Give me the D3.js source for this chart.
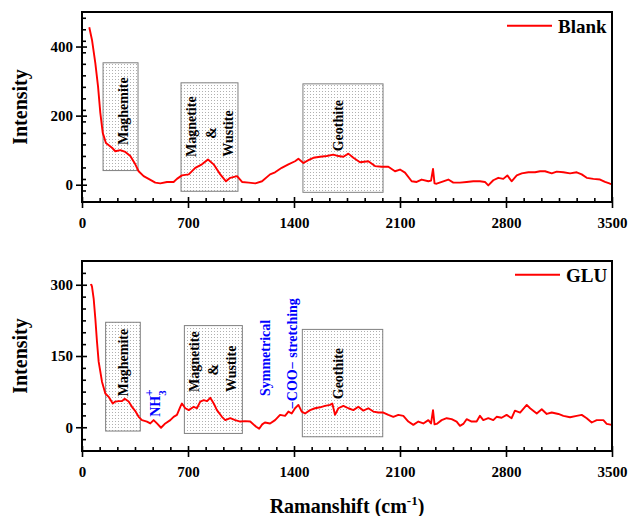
<!DOCTYPE html>
<html>
<head>
<meta charset="utf-8">
<script src="https://cdn.jsdelivr.net/npm/d3@7/dist/d3.min.js"></script>
<style>
  html, body { margin: 0; padding: 0; background: #fff; }
  svg { display: block; }
  svg text { font-family: "Liberation Serif", "Times New Roman", serif !important; font-weight: bold; }
</style>
</head>
<body>
<svg id="chart" width="628" height="516"></svg>
<script>
// ---------------- data ----------------
const xTickValues = [0, 700, 1400, 2100, 2800, 3500];
const blankYTicks = [0, 200, 400];
const gluYTicks = [0, 150, 300];

const blankX = [48,66,88,106,121,137,158,198,220,253,286,319,352,374,407,440,484,517,561,605,627,660,705,748,792,832,869,913,951,979,1024,1057,1101,1145,1189,1242,1275,1319,1363,1407,1429,1462,1495,1528,1572,1616,1660,1693,1726,1759,1792,1836,1891,1935,1979,2023,2067,2100,2133,2177,2210,2243,2287,2305,2318,2328,2342,2386,2419,2452,2496,2540,2584,2628,2661,2683,2716,2749,2782,2809,2837,2871,2904,2948,2992,3025,3058,3102,3135,3179,3223,3267,3300,3333,3377,3421,3454,3487,3500];
const blankY = [456,419,352,284,208,150,121,107,97,100,95,83,59,39,25,17,6,4,8,8,17,27,30,49,59,73,59,30,10,20,25,8,6,4,10,30,36,49,59,68,75,63,71,78,81,83,87,83,81,90,78,65,68,54,52,52,39,44,35,10,8,15,10,12,46,4,3,10,15,6,6,8,10,10,8,-2,13,20,17,27,10,27,33,36,36,39,39,33,38,36,33,36,30,20,17,15,8,3,2];

const gluX = [55,62,66,77,88,99,110,132,154,176,203,220,242,264,282,308,330,352,374,396,429,451,473,495,522,550,583,605,627,649,660,682,705,738,759,781,804,826,847,870,891,924,946,979,1012,1045,1078,1111,1150,1170,1190,1208,1242,1275,1308,1341,1363,1385,1407,1429,1451,1473,1506,1539,1572,1605,1638,1653,1671,1693,1726,1759,1792,1825,1858,1891,1924,1957,1990,2023,2056,2089,2122,2155,2188,2221,2254,2287,2305,2318,2328,2342,2375,2408,2441,2474,2496,2518,2540,2573,2606,2628,2650,2683,2716,2738,2771,2804,2837,2859,2893,2937,2959,3003,3036,3069,3102,3146,3179,3223,3267,3300,3333,3366,3399,3443,3465,3498];
const gluY = [299,300,296,271,229,180,138,96,71,64,50,54,55,55,60,54,43,34,22,15,12,8,15,8,-1,8,15,22,26,43,50,40,36,43,40,54,57,55,62,50,36,22,15,19,15,12,13,12,1,-3,6,10,8,15,26,24,33,29,40,47,33,29,36,40,42,45,47,50,26,40,45,40,36,43,35,40,33,31,31,26,22,26,24,12,5,12,8,15,8,36,6,7,15,19,17,12,3,7,17,12,12,24,15,19,15,22,20,26,19,35,31,47,40,29,38,28,31,28,24,21,24,26,19,10,15,15,7,5];

// annotation boxes: [x0, x1, y0, y1] in data units
const blankBoxes = [[139,370,41,353],[654,1030,-19,295],[1459,1988,-22,292]];
const gluBoxes = [[156,385,-8,221],[676,1059,-13,214],[1455,1986,-20,206]];
// labels: [text, x, y] (center, data units)
const blankLabels = [["Maghemite",272,213],["Magnetite",720,168],["&",852,150],["Wustite",966,148],["Geothite",1697,171]];
const gluLabels = [["Maghemite",271,136],["Magnetite",746,138],["&",868,121],["Wustite",984,123],["Geothite",1691,113]];
const gluBlueLabels = [["Symmetrical",1209,146],["\u2212COO\u2212 stretching",1388,155]];
const nh3Label = ["NH", 513, 22];

// ---------------- drawing ----------------
const FONT = "'Liberation Serif', 'Times New Roman', serif";
const svg = d3.select("#chart");
const left = 82, right = 612;
const x = d3.scaleLinear().domain([0, 3500]).range([left, right]);

const defs = svg.append("defs");
const pat = defs.append("pattern").attr("id", "dots").attr("width", 3).attr("height", 3)
  .attr("patternUnits", "userSpaceOnUse");
pat.append("rect").attr("width", 3).attr("height", 3).attr("fill", "#ffffff");
pat.append("rect").attr("x", 1).attr("y", 1).attr("width", 1).attr("height", 1).attr("fill", "#b0b0b0");

function panel(cfg) {
  const y = d3.scaleLinear().domain(cfg.domain).range([cfg.bottom, cfg.top]);
  const g = svg.append("g").attr("font-family", FONT);
  const clipId = "clip" + cfg.id;
  defs.append("clipPath").attr("id", clipId).append("rect")
    .attr("x", left).attr("y", cfg.top).attr("width", right - left).attr("height", cfg.bottom - cfg.top);

  // boxes
  g.selectAll("rect.box").data(cfg.boxes).enter().append("rect")
    .attr("class", "box")
    .attr("x", d => x(d[0])).attr("width", d => x(d[1]) - x(d[0]))
    .attr("y", d => y(d[3])).attr("height", d => y(d[2]) - y(d[3]))
    .attr("fill", "url(#dots)").attr("stroke", "#808080").attr("stroke-width", 1);

  // curve
  const pts = cfg.xs.map((v, i) => [v, cfg.ys[i]]);
  g.append("path").datum(pts)
    .attr("clip-path", `url(#${clipId})`)
    .attr("fill", "none").attr("stroke", "#ff0000").attr("stroke-width", 1.9)
    .attr("stroke-linejoin", "round")
    .attr("d", d3.line().x(d => x(d[0])).y(d => y(d[1])));

  // labels
  g.selectAll("text.lab").data(cfg.labels).enter().append("text")
    .attr("class", "lab")
    .attr("transform", d => `translate(${x(d[1])},${y(d[2])}) rotate(-90)`)
    .attr("text-anchor", "middle").attr("dominant-baseline", "central")
    .attr("font-size", 14).attr("fill", "#000").text(d => d[0]);

  // axes
  const minorStepX = 700 / 6;
  const minorX = d3.range(0, 3500.1, minorStepX).filter(v => Math.abs(v / 700 - Math.round(v / 700)) > 1e-6);
  const yMinorStep = cfg.yTicks[1] / 6;
  const minorY = d3.range(cfg.domain[0], cfg.domain[1] + 0.1, yMinorStep)
    .filter(v => Math.abs(v / cfg.yTicks[1] - Math.round(v / cfg.yTicks[1])) > 1e-6 && v > cfg.domain[0] && v < cfg.domain[1]);

  const xAxis = g.append("g").attr("transform", `translate(0,${cfg.bottom})`)
    .call(d3.axisBottom(x).tickValues(xTickValues).tickSize(6).tickPadding(9).tickFormat(d3.format("d")));
  const xMinor = g.append("g").attr("transform", `translate(0,${cfg.bottom})`)
    .call(d3.axisBottom(x).tickValues(minorX).tickSize(-4).tickFormat(""));
  const xMajIn = g.append("g").attr("transform", `translate(0,${cfg.bottom})`)
    .call(d3.axisBottom(x).tickValues(xTickValues).tickSize(-5).tickFormat(""));
  const yAxis = g.append("g").attr("transform", `translate(${left},0)`)
    .call(d3.axisLeft(y).tickValues(cfg.yTicks).tickSize(6).tickPadding(3));
  const yMinor = g.append("g").attr("transform", `translate(${left},0)`)
    .call(d3.axisLeft(y).tickValues(minorY).tickSize(-4).tickFormat(""));
  const yMajIn = g.append("g").attr("transform", `translate(${left},0)`)
    .call(d3.axisLeft(y).tickValues(cfg.yTicks).tickSize(-5).tickFormat(""));
  [xAxis, xMinor, xMajIn, yAxis, yMinor, yMajIn].forEach(a => {
    a.attr("font-family", FONT).attr("font-size", 15);
    a.select(".domain").remove();
    a.selectAll("line").attr("stroke", "#000").attr("stroke-width", 1.6);
    a.selectAll("text").attr("fill", "#000").style("font-family", FONT).style("font-weight", "bold").style("font-size", "15px");
  });

  // frame
  g.append("rect").attr("x", left).attr("y", cfg.top).attr("width", right - left).attr("height", cfg.bottom - cfg.top)
    .attr("fill", "none").attr("stroke", "#000").attr("stroke-width", 2);

  // y title
  g.append("text").attr("transform", `translate(20,${(cfg.top + cfg.bottom) / 2}) rotate(-90)`)
    .attr("text-anchor", "middle").attr("dominant-baseline", "central")
    .attr("font-size", 20).text("Intensity");

  // legend
  g.append("line").attr("x1", cfg.legX).attr("x2", cfg.legX + 45)
    .attr("y1", cfg.top + 13.7).attr("y2", cfg.top + 13.7)
    .attr("stroke", "#ff0000").attr("stroke-width", 2);
  g.append("text").attr("x", cfg.legX + 51).attr("y", cfg.top + 21)
    .attr("font-size", 19).text(cfg.name);

  return { g, y };
}

panel({ id: 1, top: 12, bottom: 202, domain: [-50, 500], yTicks: blankYTicks,
  xs: blankX, ys: blankY, boxes: blankBoxes, labels: blankLabels, name: "Blank", legX: 507 });

const p2 = panel({ id: 2, top: 261, bottom: 451, domain: [-50, 350], yTicks: gluYTicks,
  xs: gluX, ys: gluY, boxes: gluBoxes, labels: gluLabels, name: "GLU", legX: 515 });

// blue annotations in GLU panel
p2.g.selectAll("text.blue").data(gluBlueLabels).enter().append("text")
  .attr("class", "blue")
  .attr("transform", d => `translate(${x(d[1])},${p2.y(d[2])}) rotate(-90)`)
  .attr("text-anchor", "middle").attr("dominant-baseline", "central")
  .attr("font-size", 14).attr("fill", "#0000ff").text(d => d[0]);

const nh = p2.g.append("text")
  .attr("transform", `translate(${x(nh3Label[1])},${p2.y(nh3Label[2])}) rotate(-90)`)
  .attr("text-anchor", "start").attr("font-size", 14).attr("fill", "#0000ff");
nh.append("tspan").text(nh3Label[0]);
nh.append("tspan").attr("font-size", 11).attr("dy", 6).text("3");
nh.append("tspan").attr("font-size", 12).attr("dx", -6).attr("dy", -13).text("+");

// x title
const xt = svg.append("text").attr("x", (left + right) / 2).attr("y", 513)
  .attr("text-anchor", "middle").attr("font-size", 20);
xt.append("tspan").text("Ramanshift (cm");
xt.append("tspan").attr("font-size", 13).attr("dy", -8).text("-1");
xt.append("tspan").attr("dy", 8).text(")");
</script>
</body>
</html>
